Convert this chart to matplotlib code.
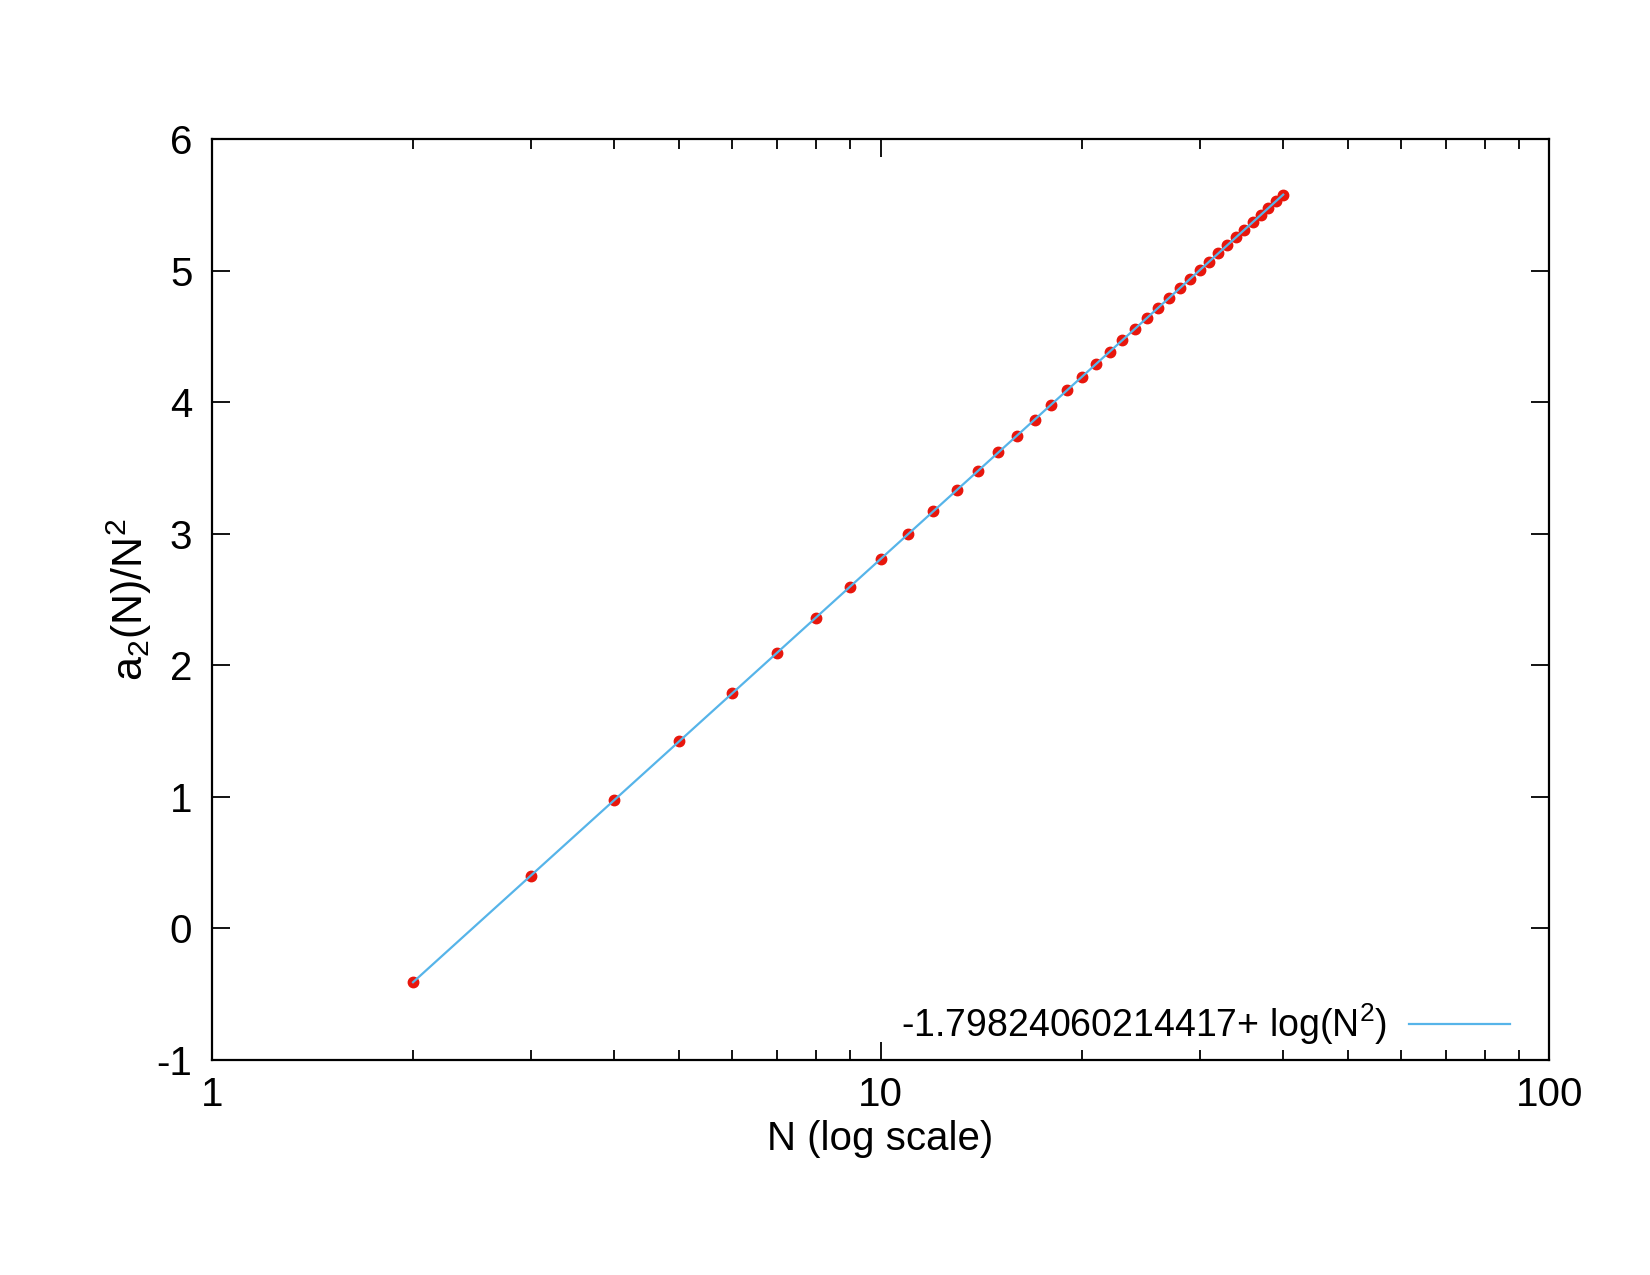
import matplotlib.pyplot as plt
import numpy as np

plt.rcParams['font.family'] = ['Liberation Sans', 'DejaVu Sans']
plt.rcParams['mathtext.fontset'] = 'custom'
plt.rcParams['mathtext.rm'] = 'Liberation Sans'
plt.rcParams['mathtext.it'] = 'Liberation Sans'

# data points
n_vals = np.arange(2, 41)
a2_vals = [-0.412, 0.399, 0.974, 1.421, 1.785, 2.094, 2.361, 2.596, 2.807,
           2.998, 3.172, 3.332, 3.480, 3.618, 3.747, 3.868, 3.982, 4.091,
           4.193, 4.291, 4.384, 4.473, 4.558, 4.640, 4.718, 4.793, 4.866,
           4.936, 5.004, 5.070, 5.133, 5.195, 5.254, 5.312, 5.369, 5.424,
           5.477, 5.529, 5.580]

# fitted curve from the legend
fit_const = -1.79824060214417
fit_label = r'-1.79824060214417+ log(N$^{\mathregular{2}}$)'

y_ticks = [-1, 0, 1, 2, 3, 4, 5, 6]
x_ticks = [1, 10, 100]

fig = plt.figure(figsize=(16.5, 12.75), dpi=100)
ax = fig.add_axes([0.1283, 0.169, 0.8107, 0.7217])

ax.plot(n_vals, a2_vals, 'o', color='#e8160c', markersize=7.5, zorder=2)
xf = np.linspace(n_vals[0], n_vals[-1], 400)
ax.plot(xf, fit_const + np.log(xf ** 2), color='#56b4e9', lw=1.6,
        label=fit_label, zorder=3)

ax.set_xscale('log')
ax.set_xlim(1, 100)
ax.set_ylim(-1, 6)
ax.set_xticks(x_ticks)
ax.set_xticklabels([str(t) for t in x_ticks])
ax.set_yticks(y_ticks)
ax.set_yticklabels([str(t) for t in y_ticks])

ax.tick_params(which='both', direction='in', top=True, right=True,
               labelsize=29, width=1.3)
ax.tick_params(which='major', length=13, pad=12)
ax.tick_params(which='minor', length=7)
ax.tick_params(axis='y', pad=14)
for s in ax.spines.values():
    s.set_linewidth(1.6)

ax.set_xlabel('N (log scale)', fontsize=29, labelpad=4)
ax.set_ylabel(r'a$_{\mathregular{2}}$(N)/N$^{\mathregular{2}}$', fontsize=31,
              labelpad=2)

ax.legend(loc='lower right', bbox_to_anchor=(0.982, -0.003), frameon=False,
          fontsize=27, markerfirst=False, handlelength=2.7,
          handletextpad=0.6, borderaxespad=0)

fig.savefig('out.png', dpi=100)
